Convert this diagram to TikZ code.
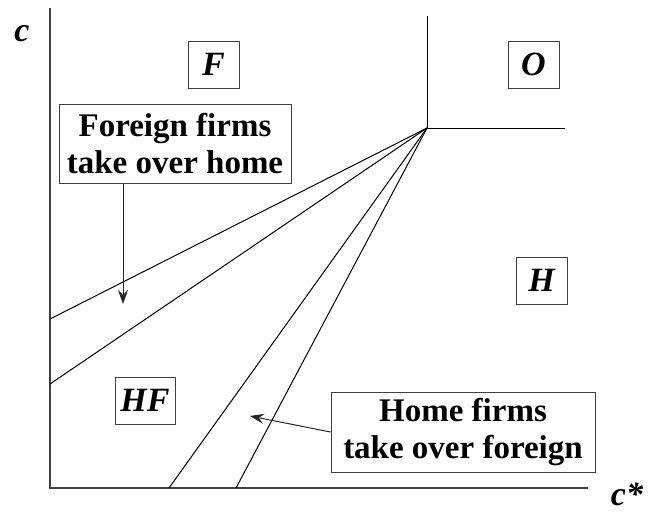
\documentclass[tikz,border=0pt]{standalone}
\usepackage{fontspec}
\setmainfont{Liberation Serif}
\usetikzlibrary{arrows.meta}
\begin{document}
\begin{tikzpicture}[x=1pt,y=-1pt,
  axis/.style={line width=1.4pt,draw=black!75},
  bound/.style={line width=1pt,draw=black},
  lettbox/.style={draw=black!75,line width=1pt,minimum height=47pt,inner sep=0pt,
    font=\fontsize{34}{37}\selectfont\bfseries\itshape},
  textbox/.style={draw=black!75,line width=1pt,inner sep=0pt,align=center,
    font=\fontsize{33}{37}\selectfont\bfseries},
  axlabel/.style={font=\fontsize{34}{37}\selectfont\bfseries\itshape},
  pointer/.style={line width=1pt,draw=black!85,-{Stealth[length=14pt,width=10pt,inset=5pt]}}]
\useasboundingbox (0,0) rectangle (656,512);
% axes
\coordinate (origin) at (50,488);
\coordinate (ytop) at (50,8);
\coordinate (xend) at (588,488);
\draw[axis] (ytop) -- (origin) -- (xend);
% corner point and boundaries
\coordinate (K) at (427,128);
\coordinate (Ktop) at (427,16);
\coordinate (Kright) at (565,128);
\coordinate (A1) at (50,319);
\coordinate (A2) at (50,384);
\coordinate (B1) at (169,488);
\coordinate (B2) at (236,488);
\draw[bound] (Ktop) -- (K) -- (Kright);
\draw[bound] (K) -- (A1);
\draw[bound] (K) -- (A2);
\draw[bound] (K) -- (B1);
\draw[bound] (K) -- (B2);
% region labels
\node[lettbox,minimum width=51pt] (F) at (213.5,64.5) {F};
\node[lettbox,minimum width=51pt] (O) at (533.5,64.5) {O};
\node[lettbox,minimum width=51pt] (H) at (541.5,280.5) {H};
\node[lettbox,minimum width=60pt] (HF) at (145,400.5) {HF};
% text boxes
\node[textbox,minimum width=232pt,minimum height=79pt] (FT) at (175,143.5) {Foreign firms\\take over home};
\node[textbox,minimum width=264pt,minimum height=80pt] (HT) at (463,432) {Home firms\\take over foreign};
\coordinate (FTtip) at (123,304);
\coordinate (HTtip) at (250,416);
\draw[pointer] (FT.south -| FTtip) -- (FTtip);
\draw[pointer] (HT.west) -- (HTtip);
% axis labels
\node[axlabel] (cy) at (22,34) {c};
\node[axlabel] (cx) at (627,494) {c*};
\end{tikzpicture}
\end{document}
